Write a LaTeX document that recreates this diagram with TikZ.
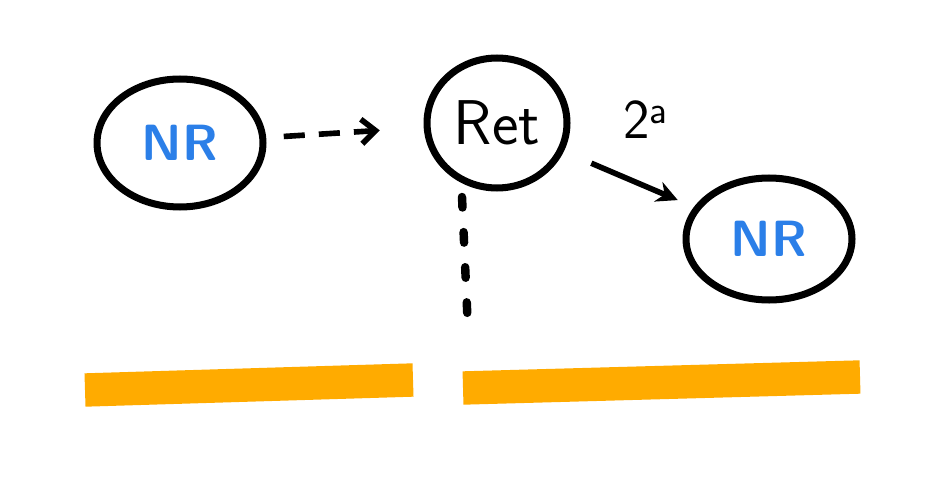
\documentclass[tikz,border=0pt]{standalone}
\usetikzlibrary{arrows.meta, shapes.geometric}
\usepackage{xcolor}
\definecolor{nrblue}{HTML}{2B7FE8}
\definecolor{barorange}{HTML}{FFAB00}

\begin{document}
\begin{tikzpicture}[x=0.02cm, y=-0.02cm, >=Stealth]
				\tikzstyle{round} = [draw=black, line width=4pt, ellipse, inner sep=0pt]
				\tikzstyle{invis} = [draw=none, font=\sffamily\fontsize{32}{34}\selectfont]
				\tikzstyle{bar} = [draw=barorange, line width=19pt, line cap=butt, rounded corners=2pt]
				
				\useasboundingbox (0,0) rectangle (932,486);
				
				\node[round, minimum width=3.32cm, minimum height=2.56cm, text=nrblue, font=\sffamily\bfseries\fontsize{29}{31}\selectfont] at (180,143) (nr1) {NR};
				\node[round, minimum width=2.8cm, minimum height=2.6cm, font=\sffamily\fontsize{36}{38}\selectfont] at (497,123) (ret) {Ret};
				\node[round, minimum width=3.32cm, minimum height=2.44cm, text=nrblue, font=\sffamily\bfseries\fontsize{29}{31}\selectfont] at (769,239) (nr2) {NR};
				\node[invis] at (646,120) (ord) {2\textsuperscript{a}};
				\coordinate (dotstart) at (462,197);
				\coordinate (dotend) at (468,330);
				
				\path
				(nr1)	edge [line width=3.2pt, dash pattern=on 12pt off 8pt, -{Straight Barb[length=8pt, width=14pt]}, shorten <=10pt, shorten >=25pt]	(ret)
				(ret)	edge [line width=3.2pt, -{Stealth[length=12pt, width=12pt]}, shorten <=17pt, shorten >=10pt]	(nr2)
				(dotstart)	edge [line width=4.8pt, line cap=round, dash pattern=on 6pt off 14pt]	(dotend);
				
				\draw[bar] (85,390) -- (413,380);
				\draw[bar] (463,388) -- (860,377);
			\end{tikzpicture}
\end{document}
